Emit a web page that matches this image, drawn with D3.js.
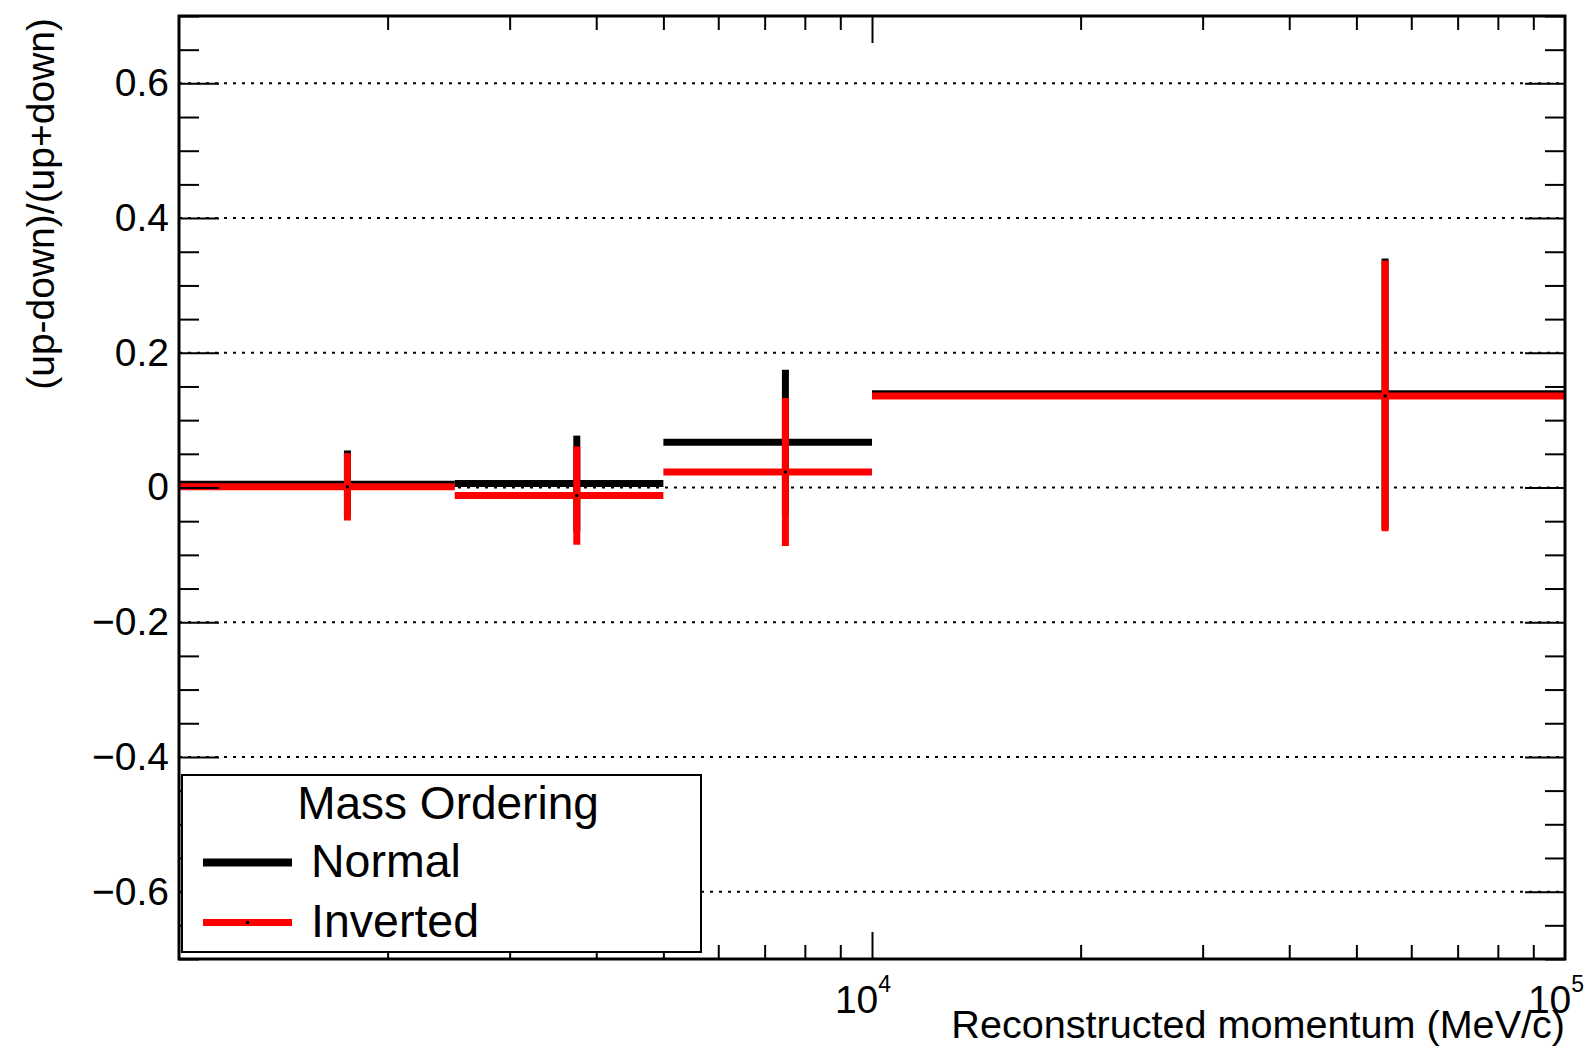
<!DOCTYPE html>
<html>
<head>
<meta charset="utf-8">
<script src="https://cdn.jsdelivr.net/npm/d3@7"></script>
<style>
  body { margin: 0; background: #fff; }
  text { font-family: "Liberation Sans", Arial, Helvetica, sans-serif; fill: #000; }
</style>
</head>
<body>
<script>
var width = 1593, height = 1049;

// data
const binEdges = [1000, 2500, 5000, 10000, 100000];
const normalVals = [0.005, 0.006, 0.067, 0.139];
const normalErrs = [0.050, 0.071, 0.108, 0.201];
const invertedVals = [0.001, -0.012, 0.023, 0.136];
const invertedErrs = [0.050, 0.073, 0.110, 0.201];
const seriesNames = ['Normal', 'Inverted'];
const seriesColors = ['#000000', '#ff0000'];
const yMajorTicks = [-0.6, -0.4, -0.2, 0, 0.2, 0.4, 0.6];
const yMinorTicks = d3.range(-14, 15).filter(i => i % 4 !== 0).map(i => i * 0.05);
const xMinorTicks = [2000, 3000, 4000, 5000, 6000, 7000, 8000, 9000,
                     20000, 30000, 40000, 50000, 60000, 70000, 80000, 90000];
const xMajorTicks = [10000];
const xLabelExps = [4, 5];

function main() {
  var svg = d3.select('body').append('svg')
    .attr('width', width)
    .attr('height', height);

  svg.append('rect').attr('width', width).attr('height', height).attr('fill', '#fff');

  var padLeft = 179, padRight = 1565, padTop = 16, padBottom = 959;

  var xscale = d3.scaleLog().domain([1000, 100000]).range([padLeft, padRight]);
  var yscale = d3.scaleLinear().domain([-0.7, 0.7]).range([padBottom, padTop]);

  // dotted grid at major y ticks
  svg.append('g').selectAll('line')
    .data(yMajorTicks)
    .enter().append('line')
    .attr('x1', padLeft).attr('x2', padRight)
    .attr('y1', d => yscale(d)).attr('y2', d => yscale(d))
    .attr('stroke', '#000')
    .attr('stroke-width', 2)
    .attr('stroke-dasharray', '3,6');

  // histograms with error bars
  var series = [
    { vals: normalVals, errs: normalErrs },
    { vals: invertedVals, errs: invertedErrs }
  ];
  series.forEach(function (s, k) {
    var g = svg.append('g');
    var bins = s.vals.map(function (v, i) {
      return { lo: binEdges[i], hi: binEdges[i + 1], c: (binEdges[i] + binEdges[i + 1]) / 2, v: v, e: s.errs[i] };
    });
    g.selectAll('line.h').data(bins).enter().append('line')
      .attr('class', 'h')
      .attr('x1', d => xscale(d.lo)).attr('x2', d => xscale(d.hi))
      .attr('y1', d => yscale(d.v)).attr('y2', d => yscale(d.v))
      .attr('stroke', seriesColors[k]).attr('stroke-width', 7);
    g.selectAll('line.v').data(bins).enter().append('line')
      .attr('class', 'v')
      .attr('x1', d => xscale(d.c)).attr('x2', d => xscale(d.c))
      .attr('y1', d => yscale(d.v - d.e)).attr('y2', d => yscale(d.v + d.e))
      .attr('stroke', seriesColors[k]).attr('stroke-width', 7);
    g.selectAll('rect').data(bins).enter().append('rect')
      .attr('x', d => xscale(d.c) - 1.5).attr('y', d => yscale(d.v) - 1.5)
      .attr('width', 3).attr('height', 3)
      .attr('fill', '#000');
  });

  // axes, ticks pointing inwards (ROOT style)
  var fmt = v => Math.abs(v) < 1e-9 ? '0' : d3.format('.1f')(v);

  function styleAxis(g) {
    g.select('.domain').remove();
    g.selectAll('.tick line').attr('stroke', '#000').attr('stroke-width', 2);
    g.selectAll('.tick text').attr('font-size', 39)
      .attr('font-family', '"Liberation Sans", Arial, sans-serif').attr('fill', '#000');
  }

  svg.append('g').attr('transform', 'translate(' + padLeft + ',0)')
    .call(d3.axisLeft(yscale).tickValues(yMajorTicks).tickSize(-40).tickPadding(10).tickFormat(fmt))
    .call(styleAxis);
  svg.append('g').attr('transform', 'translate(' + padLeft + ',0)')
    .call(d3.axisLeft(yscale).tickValues(yMinorTicks).tickSize(-20).tickFormat(''))
    .call(styleAxis);
  svg.append('g').attr('transform', 'translate(' + padRight + ',0)')
    .call(d3.axisRight(yscale).tickValues(yMajorTicks).tickSize(-40).tickFormat(''))
    .call(styleAxis);
  svg.append('g').attr('transform', 'translate(' + padRight + ',0)')
    .call(d3.axisRight(yscale).tickValues(yMinorTicks).tickSize(-20).tickFormat(''))
    .call(styleAxis);

  svg.append('g').attr('transform', 'translate(0,' + padBottom + ')')
    .call(d3.axisBottom(xscale).tickValues(xMinorTicks).tickSize(-14).tickFormat(''))
    .call(styleAxis);
  svg.append('g').attr('transform', 'translate(0,' + padBottom + ')')
    .call(d3.axisBottom(xscale).tickValues(xMajorTicks).tickSize(-27).tickFormat(''))
    .call(styleAxis);
  svg.append('g').attr('transform', 'translate(0,' + padTop + ')')
    .call(d3.axisTop(xscale).tickValues(xMinorTicks).tickSize(-14).tickFormat(''))
    .call(styleAxis);
  svg.append('g').attr('transform', 'translate(0,' + padTop + ')')
    .call(d3.axisTop(xscale).tickValues(xMajorTicks).tickSize(-27).tickFormat(''))
    .call(styleAxis);

  // x tick labels 10^n
  var xl = svg.append('g').selectAll('text')
    .data(xLabelExps)
    .enter().append('text')
    .attr('x', d => xscale(Math.pow(10, d)) - 9)
    .attr('y', 1013)
    .attr('text-anchor', 'middle')
    .attr('font-size', 39);
  xl.append('tspan').text('10');
  xl.append('tspan').attr('font-size', 23).attr('dy', -21).text(d => d);

  // axis titles
  svg.append('text')
    .attr('x', padRight).attr('y', 1038)
    .attr('text-anchor', 'end')
    .attr('font-size', 39.6)
    .text('Reconstructed momentum (MeV/c)');

  svg.append('text')
    .attr('transform', 'translate(54,18) rotate(-90)')
    .attr('text-anchor', 'end')
    .attr('font-size', 39)
    .text('(up-down)/(up+down)');

  // frame
  svg.append('rect')
    .attr('x', padLeft).attr('y', padTop)
    .attr('width', padRight - padLeft).attr('height', padBottom - padTop)
    .attr('fill', 'none').attr('stroke', '#000').attr('stroke-width', 3);

  // legend
  var legend = svg.append('g');
  legend.append('rect')
    .attr('x', 182).attr('y', 775).attr('width', 519).attr('height', 177)
    .attr('fill', '#fff').attr('stroke', '#000').attr('stroke-width', 2);
  legend.append('text')
    .attr('x', 448).attr('y', 819)
    .attr('text-anchor', 'middle')
    .attr('font-size', 46)
    .text('Mass Ordering');
  var rows = legend.selectAll('g.row')
    .data(seriesNames)
    .enter().append('g')
    .attr('class', 'row')
    .attr('transform', (d, i) => 'translate(0,' + (i * 60) + ')');
  rows.append('line')
    .attr('x1', 203).attr('x2', 292)
    .attr('y1', 862.5).attr('y2', 862.5)
    .attr('stroke', (d, i) => seriesColors[i]).attr('stroke-width', (d, i) => i === 0 ? 8 : 7);
  rows.append('rect')
    .attr('x', 246).attr('y', 861).attr('width', 3).attr('height', 3)
    .attr('fill', '#000');
  rows.append('text')
    .attr('x', 311).attr('y', 877)
    .attr('font-size', 46.5)
    .text(d => d);
}
main();
</script>
</body>
</html>
